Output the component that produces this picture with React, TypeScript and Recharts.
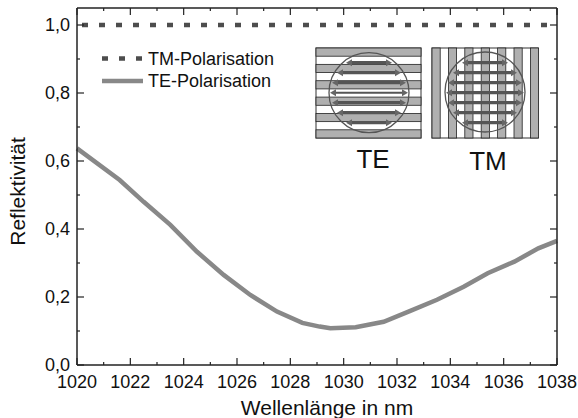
import { LineChart, Line, XAxis, YAxis } from "recharts";

const wavelengths = [1020, 1021.6, 1022.5, 1023.5, 1024.5, 1025.5, 1026.5, 1027.5, 1028.45, 1029.1, 1029.5, 1030.45, 1031.5, 1032.5, 1033.5, 1034.5, 1035.4, 1036.4, 1037.3, 1038];
const teValues = [0.637, 0.544, 0.48, 0.412, 0.333, 0.265, 0.206, 0.157, 0.124, 0.113, 0.108, 0.111, 0.127, 0.159, 0.192, 0.23, 0.27, 0.304, 0.343, 0.365];
const tmValues = [1, 1, 1, 1, 1, 1, 1, 1, 1, 1, 1, 1, 1, 1, 1, 1, 1, 1, 1, 1];

const xTicks = [1020, 1021, 1022, 1023, 1024, 1025, 1026, 1027, 1028, 1029, 1030, 1031, 1032, 1033, 1034, 1035, 1036, 1037, 1038];
const yTicks = [0, 0.1, 0.2, 0.3, 0.4, 0.5, 0.6, 0.7, 0.8, 0.9, 1];

const tableData = wavelengths.map((w, i) => ({ w, te: teValues[i], tm: tmValues[i] }));

const FONT = "'Liberation Sans', Arial, sans-serif";
const AXIS = "#222";

function XTick({ x, y, payload, orientation }: any) {
  const major = payload.value % 2 === 0;
  const len = major ? 7 : 3;
  if (orientation === "top") {
    return <line x1={x} x2={x} y1={y} y2={y + len} stroke={AXIS} strokeWidth={1.2} />;
  }
  return (
    <g>
      <line x1={x} x2={x} y1={y} y2={y - len} stroke={AXIS} strokeWidth={1.2} />
      {major && (
        <text x={x} y={y + 23} textAnchor="middle" fontSize={18} fontFamily={FONT} fill="#111">
          {payload.value}
        </text>
      )}
    </g>
  );
}

function YTick({ x, y, payload, orientation }: any) {
  const major = Math.round(payload.value * 10) % 2 === 0;
  const len = major ? 7 : 3;
  if (orientation === "right") {
    return <line x1={x} x2={x - len} y1={y} y2={y} stroke={AXIS} strokeWidth={1.2} />;
  }
  return (
    <g>
      <line x1={x} x2={x + len} y1={y} y2={y} stroke={AXIS} strokeWidth={1.2} />
      {major && (
        <text x={x - 7} y={y + 6} textAnchor="end" fontSize={18} fontFamily={FONT} fill="#111">
          {payload.value.toFixed(1).replace(".", ",")}
        </text>
      )}
    </g>
  );
}

// the TE / TM grating sketch in the upper right corner
function Inset() {
  const teBands = [0, 1, 2, 3, 4, 5];
  const tmBands = [0, 1, 2, 3, 4, 5, 6];
  const rows = [0, 1, 2, 3, 4, 5, 6];
  const half = [23, 32, 37, 39, 37, 32, 23];
  const head = (x: number, y: number, dir: number, key: string) => (
    <path key={key} d={`M${x} ${y} l${dir * 6} -3.5 v7 z`} fill="#666" />
  );
  const arrows = (cx: number, thin: number) =>
    rows.map((r) => (
      <g key={r}>
        <line
          x1={cx - half[r] + 4}
          x2={cx + half[r] - 4}
          y1={62.7 + r * 10}
          y2={62.7 + r * 10}
          stroke="#555"
          strokeWidth={r === thin ? 2 : 3.2}
        />
        {head(cx - half[r], 62.7 + r * 10, 1, `l${r}`)}
        {head(cx + half[r], 62.7 + r * 10, -1, `r${r}`)}
      </g>
    ));
  return (
    <svg width={578} height={418} style={{ position: "absolute", left: 0, top: 0, pointerEvents: "none" }}>
      <g>
        <rect x={316} y={48} width={105} height={90} fill="#fff" stroke="#333" />
        {teBands.map((i) => (
          <rect key={i} x={316} y={48 + i * 16.36} width={105} height={8.2} fill="#b0b0b0" stroke="#222" strokeWidth={0.8} />
        ))}
        <circle cx={369} cy={92.7} r={40} fill="none" stroke="#555" strokeWidth={1.3} />
        {arrows(369, 3)}
        <text x={373} y={168} textAnchor="middle" fontSize={26} fontFamily={FONT} fill="#111">TE</text>
      </g>
      <g>
        <rect x={432} y={48} width={106} height={90} fill="#fff" stroke="#333" />
        {tmBands.map((i) => (
          <rect key={i} x={432 + i * 16.4} y={48} width={8.2} height={90} fill="#b0b0b0" stroke="#222" strokeWidth={0.8} />
        ))}
        <circle cx={485} cy={92} r={40} fill="none" stroke="#555" strokeWidth={1.3} />
        {arrows(485, -1)}
        <text x={488} y={170} textAnchor="middle" fontSize={26} fontFamily={FONT} fill="#111">TM</text>
      </g>
      <line x1={102} x2={143} y1={58.5} y2={58.5} stroke="#4d4d4d" strokeWidth={4.5} strokeDasharray="6 11" />
      <text x={148} y={65} fontSize={18} fontFamily={FONT} fill="#111">TM-Polarisation</text>
      <line x1={102} x2={143} y1={81} y2={81} stroke="#888" strokeWidth={4.5} />
      <text x={148} y={87} fontSize={18} fontFamily={FONT} fill="#111">TE-Polarisation</text>
    </svg>
  );
}

export default function App() {
  return (
    <div style={{ position: "absolute", left: 0, top: 0, width: 578, height: 418, background: "#fff" }}>
      <LineChart width={578} height={418} data={tableData} margin={{ top: 7, right: 20, bottom: 0, left: 0 }}>
        <XAxis
          dataKey="w"
          type="number"
          domain={[1020, 1038]}
          ticks={xTicks}
          interval={0}
          height={53}
          tick={<XTick />}
          tickLine={false}
          tickSize={0}
          tickMargin={0}
          axisLine={{ stroke: AXIS, strokeWidth: 1.5 }}
          label={{ value: "Wellenlänge in nm", position: "insideBottom", offset: 3, dx: 10, fontSize: 21, fontFamily: FONT, fill: "#111" }}
        />
        <XAxis
          xAxisId="top"
          orientation="top"
          dataKey="w"
          type="number"
          domain={[1020, 1038]}
          ticks={xTicks}
          interval={0}
          height={1}
          tick={<XTick />}
          tickLine={false}
          tickSize={0}
          tickMargin={0}
          axisLine={{ stroke: AXIS, strokeWidth: 1.5 }}
        />
        <YAxis
          type="number"
          domain={[0, 1.05]}
          ticks={yTicks}
          interval={0}
          width={77}
          tick={<YTick />}
          tickLine={false}
          tickSize={0}
          tickMargin={0}
          axisLine={{ stroke: AXIS, strokeWidth: 1.5 }}
          label={{ value: "Reflektivität", angle: -90, position: "insideLeft", offset: 18, dy: 5, fontSize: 21, fontFamily: FONT, fill: "#111", style: { textAnchor: "middle" } }}
        />
        <YAxis
          yAxisId="right"
          orientation="right"
          type="number"
          domain={[0, 1.05]}
          ticks={yTicks}
          interval={0}
          width={1}
          tick={<YTick />}
          tickLine={false}
          tickSize={0}
          tickMargin={0}
          axisLine={{ stroke: AXIS, strokeWidth: 1.5 }}
        />
        <Line xAxisId="top" yAxisId="right" dataKey="tm" stroke="#4d4d4d" strokeWidth={4.5} strokeDasharray="6 11" strokeDashoffset={-5} dot={false} activeDot={false} isAnimationActive={false} />
        <Line dataKey="te" stroke="#888" strokeWidth={4.5} dot={false} activeDot={false} isAnimationActive={false} />
      </LineChart>
      <Inset />
    </div>
  );
}
